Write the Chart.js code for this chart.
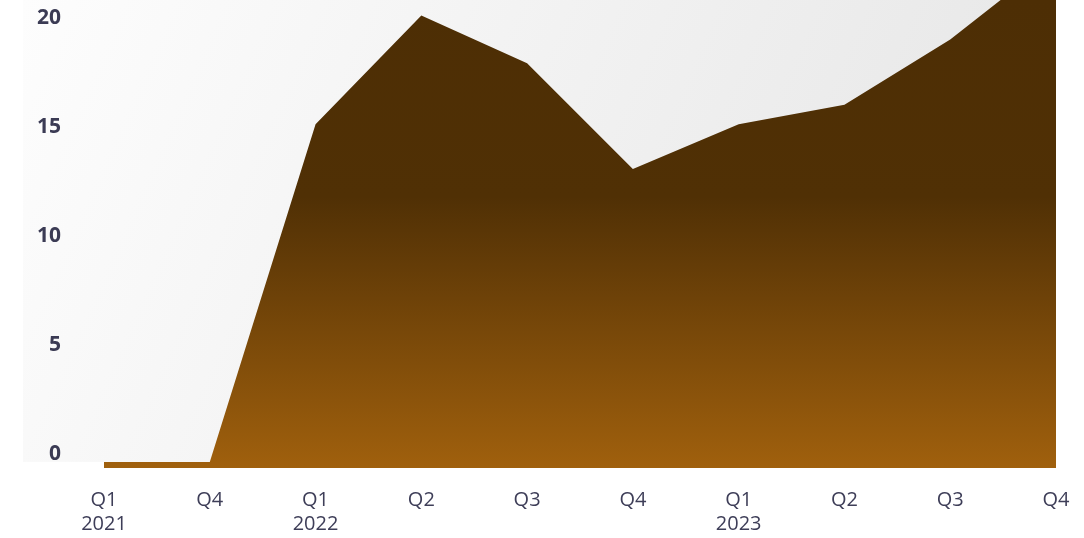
<!DOCTYPE html>
<html>
<head>
<meta charset="utf-8">
<script src="https://cdn.jsdelivr.net/npm/chart.js@4"></script>
<style>
  html, body { margin: 0; padding: 0; background: #ffffff; }
  #wrap { width: 1084px; height: 538px; position: relative; }
</style>
</head>
<body>
<div id="wrap"><canvas id="chart"></canvas></div>
<script>
// quarters on the x axis (multi-line where the year is shown)
const quarters = [['Q1', '2021'], 'Q4', ['Q1', '2022'], 'Q2', 'Q3', 'Q4', ['Q1', '2023'], 'Q2', 'Q3', 'Q4'];
const values = [0, 0, 15.5, 20.5, 18.3, 13.45, 15.5, 16.4, 19.4, 23.2];
const yTicks = [0, 5, 10, 15, 20];

const ctx = document.getElementById('chart').getContext('2d');

// light gray panel behind the plot, from the labels down to the zero line
const panelBg = {
    id: 'panelBg',
    beforeDraw(chart) {
        const c = chart.ctx;
        const area = chart.chartArea;
        const y0 = chart.scales.y.getPixelForValue(0);
        const left = area.left - 81;
        const g = c.createLinearGradient(left, area.top, area.right, y0);
        g.addColorStop(0, '#fdfdfd');
        g.addColorStop(1, '#e4e4e4');
        c.save();
        c.fillStyle = g;
        c.fillRect(left, area.top, area.right - left, y0 - area.top);
        c.restore();
    }
};

function areaFill(context) {
    const chart = context.chart;
    const area = chart.chartArea;
    if (!area) return '#4e2e05';
    const g = chart.ctx.createLinearGradient(0, area.top, 0, area.bottom);
    g.addColorStop(0, '#4d2e05');
    g.addColorStop(0.42, '#503005');
    g.addColorStop(1, '#a0600d');
    return g;
}

// the layout is set by hand: no edge padding, fixed axis sizes
function fitX(scale) {
    scale.paddingLeft = 0;
    scale.paddingRight = 0;
    scale.height = 68;
}
function fitY(scale) {
    scale.paddingTop = 0;
    scale.paddingBottom = 0;
    scale.width = 67;
}

new Chart(ctx, {
    type: 'line',
    data: {
        labels: quarters,
        datasets: [{
            data: values,
            fill: 'start',
            backgroundColor: areaFill,
            borderWidth: 0,
            pointRadius: 0,
            tension: 0
        }]
    },
    options: {
        responsive: true,
        maintainAspectRatio: false,
        animation: false,
        layout: { padding: { left: 37, right: 28, top: 0, bottom: 2 } },
        plugins: {
            legend: { display: false },
            tooltip: { enabled: false }
        },
        scales: {
            x: {
                offset: false,
                afterFit: fitX,
                grid: { display: false, drawTicks: false },
                border: { display: false },
                ticks: {
                    autoSkip: false,
                    maxRotation: 0,
                    padding: 20,
                    color: '#3e3e58',
                    font: { family: 'Open Sans', size: 20 },
                    lineHeight: 1.2
                }
            },
            y: {
                min: -0.28,
                max: 21.21,
                afterBuildTicks: (scale) => {
                    scale.ticks = yTicks.map(v => ({ value: v }));
                },
                afterFit: fitY,
                grid: { display: false, drawTicks: false },
                border: { display: false },
                ticks: {
                    padding: 43,
                    labelOffset: -8,
                    color: '#3b3b54',
                    font: { family: 'Open Sans', size: 21, weight: 'bold' }
                }
            }
        }
    },
    plugins: [panelBg]
});
</script>
</body>
</html>
